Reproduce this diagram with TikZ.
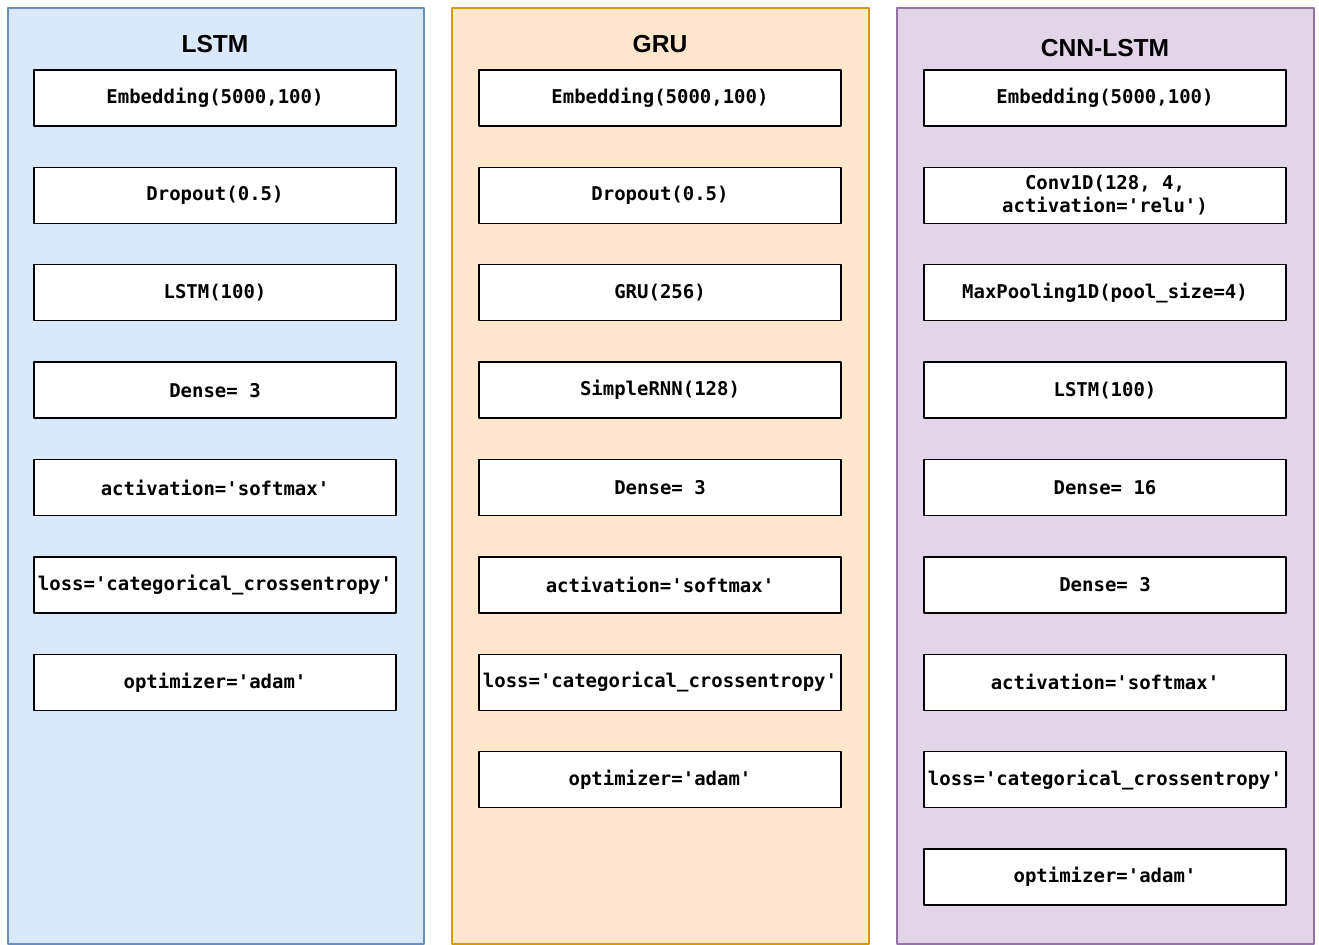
\documentclass[tikz,border=0pt]{standalone}
\usepackage{fontspec}
\setmainfont{Liberation Sans}
\setmonofont{DejaVu Sans Mono}
\usetikzlibrary{positioning}

\definecolor{lstmfill}{HTML}{DAE8FC}
\definecolor{lstmline}{HTML}{6C8EBF}
\definecolor{grufill}{HTML}{FFE6CC}
\definecolor{gruline}{HTML}{D79B00}
\definecolor{cnnfill}{HTML}{E1D5E7}
\definecolor{cnnline}{HTML}{9673A6}

\tikzset{
  panel/.style={line width=0.8pt},
  title/.style={font=\bfseries\fontsize{14}{16}\selectfont},
  layer/.style={draw=black, line width=0.8pt, fill=white, minimum width=7.24cm,
    minimum height=1.12cm, inner sep=1pt, align=center,
    font=\ttfamily\bfseries\fontsize{10.8}{13}\selectfont},
}

\begin{document}
\begin{tikzpicture}[x=0.02cm,y=-0.02cm,line join=round,node distance=0.80cm]
  \useasboundingbox (0,0) rectangle (1319,945);
  % LSTM
  \draw[panel,draw=lstmline,fill=lstmfill] (8,8) rectangle (424,944);
  \node[title] (lstm) at (215,44) {LSTM};
  \node[layer] (l1) at (215,98) {Embedding(5000,100)};
  \node[layer,below=of l1] (l2) {Dropout(0.5)};
  \node[layer,below=of l2] (l3) {LSTM(100)};
  \node[layer,below=of l3] (l4) {Dense= 3};
  \node[layer,below=of l4] (l5) {activation='softmax'};
  \node[layer,below=of l5] (l6) {loss='categorical\_crossentropy'};
  \node[layer,below=of l6] (l7) {optimizer='adam'};
  % GRU
  \draw[panel,draw=gruline,fill=grufill] (452,8) rectangle (869,944);
  \node[title] (gru) at (660,44) {GRU};
  \node[layer] (g1) at (660,98) {Embedding(5000,100)};
  \node[layer,below=of g1] (g2) {Dropout(0.5)};
  \node[layer,below=of g2] (g3) {GRU(256)};
  \node[layer,below=of g3] (g4) {SimpleRNN(128)};
  \node[layer,below=of g4] (g5) {Dense= 3};
  \node[layer,below=of g5] (g6) {activation='softmax'};
  \node[layer,below=of g6] (g7) {loss='categorical\_crossentropy'};
  \node[layer,below=of g7] (g8) {optimizer='adam'};
  % CNN-LSTM
  \draw[panel,draw=cnnline,fill=cnnfill] (897,8) rectangle (1314,944);
  \node[title] (cnn) at (1105,48) {CNN-LSTM};
  \node[layer] (c1) at (1105,98) {Embedding(5000,100)};
  \node[layer,below=of c1] (c2) {Conv1D(128, 4,\\activation='relu')};
  \node[layer,below=of c2] (c3) {MaxPooling1D(pool\_size=4)};
  \node[layer,below=of c3] (c4) {LSTM(100)};
  \node[layer,below=of c4] (c5) {Dense= 16};
  \node[layer,below=of c5] (c6) {Dense= 3};
  \node[layer,below=of c6] (c7) {activation='softmax'};
  \node[layer,below=of c7] (c8) {loss='categorical\_crossentropy'};
  \node[layer,below=of c8] (c9) {optimizer='adam'};
\end{tikzpicture}
\end{document}
